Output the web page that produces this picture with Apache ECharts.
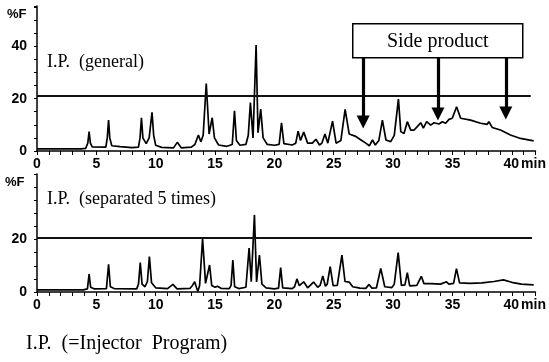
<!DOCTYPE html>
<html>
<head>
<meta charset="utf-8">
<script src="https://cdn.jsdelivr.net/npm/echarts@6/dist/echarts.min.js"></script>
<style>
html,body{margin:0;padding:0;background:#fff}
#main{width:549px;height:362px}
</style>
</head>
<body>
<div id="main"></div>
<script>
// 读图得到的数据 [min, %F]
var generalTrace = [
    [0, 0.8], [3.7, 0.8], [4.1, 1.0], [4.28, 3], [4.39, 7.4], [4.5, 3], [4.65, 1.6],
    [5.8, 1.5], [5.92, 5], [6.03, 11.8], [6.13, 5], [6.3, 2.0], [7.0, 1.7], [8.0, 1.3],
    [8.55, 1.5], [8.68, 5], [8.8, 12.7], [8.92, 5], [9.2, 2.8], [9.45, 5], [9.69, 14.8],
    [9.83, 6], [10.0, 2.2], [10.5, 1.4], [11.5, 1.2], [11.82, 3.3], [12.15, 1.2], [13.0, 1.5],
    [13.3, 2.5], [13.6, 6.1], [13.8, 3.5], [14.0, 6], [14.26, 25.8], [14.5, 6.5], [14.76, 12.7],
    [14.95, 5], [15.3, 2.3], [16.0, 1.8], [16.45, 2.5], [16.64, 15.4], [16.8, 4], [17.1, 2.2],
    [17.6, 2.5], [17.8, 6], [17.98, 18.5], [18.2, 5], [18.46, 40.5], [18.62, 7], [18.85, 16],
    [19.05, 5], [19.4, 2.5], [20.0, 2.2], [20.4, 2.5], [20.6, 10.8], [20.8, 2.8], [21.5, 2.3],
    [21.8, 3], [22.0, 7.6], [22.2, 4], [22.47, 7.2], [22.8, 3], [23.2, 3], [23.5, 4.5],
    [23.8, 2.3], [24.0, 3], [24.26, 6.5], [24.5, 3], [24.9, 11.4], [25.2, 3], [25.6, 4],
    [25.96, 15.9], [26.3, 6.5], [26.8, 5.7], [27.3, 4.2], [27.7, 3.0], [28.0, 2.0], [28.27, 4.2],
    [28.5, 2.3], [28.8, 4], [29.1, 11.8], [29.4, 4.2], [29.8, 3.6], [30.1, 6], [30.45, 19.8],
    [30.65, 7.4], [30.92, 6.7], [31.2, 11.2], [31.49, 8.0], [31.76, 8.0], [32.04, 9.3],
    [32.33, 10.8], [32.55, 8.7], [32.83, 11.2], [33.17, 9.9], [33.45, 10.8], [33.87, 10.3],
    [34.15, 11.2], [34.43, 10.6], [34.71, 12.1], [34.99, 12.5], [35.35, 16.9], [35.69, 12.5],
    [36.53, 11.8], [37.37, 10.6], [37.93, 10.2], [38.07, 11.2], [38.35, 9.0], [39.05, 8.0],
    [39.89, 6.1], [40.73, 4.8], [41.85, 3.9]
];
var separatedTrace = [
    [0, 0.8], [3.9, 0.8], [4.25, 1.2], [4.39, 6.8], [4.52, 1.8], [4.8, 1.2], [5.85, 1.3],
    [6.03, 10.6], [6.18, 2], [6.5, 1.3], [8.4, 1.2], [8.55, 3], [8.7, 11.2], [8.85, 3], [9.1, 2],
    [9.3, 4], [9.47, 13.5], [9.65, 3.5], [10.0, 1.6], [11.0, 1.3], [11.45, 2.9], [11.8, 1.2],
    [12.9, 1.4], [13.1, 2.5], [13.28, 3.9], [13.45, 1.5], [13.55, 0.2], [13.7, 2.5], [13.95, 20.3],
    [14.2, 3.3], [14.35, 4], [14.54, 10.3], [14.72, 2.5], [15.0, 1.8], [15.2, 2.2], [15.5, 1.4],
    [16.2, 1.3], [16.35, 2.5], [16.5, 12.2], [16.65, 2], [17.0, 1.3], [17.6, 1.8], [17.87, 16.8],
    [18.05, 3.9], [18.32, 29.4], [18.5, 3.8], [18.74, 14.1], [18.95, 3], [19.3, 1.6], [20.0, 1.2],
    [20.35, 1.5], [20.53, 9.3], [20.7, 1.6], [21.5, 1.3], [21.7, 2], [21.9, 5.0], [22.1, 2.4],
    [22.47, 3.9], [22.8, 1.6], [23.3, 3.8], [23.65, 1.8], [23.85, 2.5], [24.08, 6.1], [24.3, 2.2],
    [24.45, 3], [24.7, 9.7], [24.95, 2.4], [25.3, 2.5], [25.69, 14.1], [25.95, 4], [26.3, 3.8],
    [26.6, 2], [27.2, 1.5], [27.7, 1.4], [27.98, 2.9], [28.2, 1.5], [28.6, 1.6], [28.96, 9.0],
    [29.3, 2], [29.9, 1.7], [30.1, 3], [30.43, 15.0], [30.7, 2.5], [31.0, 2.7], [31.2, 7.4],
    [31.4, 2.3], [32.0, 2.5], [32.38, 6.0], [32.6, 3.2], [33.2, 3.2], [34.0, 3], [34.5, 3.9],
    [34.7, 3], [35.1, 3.3], [35.34, 8.9], [35.6, 3.5], [36.5, 3.3], [37.5, 3.5], [38.5, 4.0],
    [39.3, 4.6], [40.0, 3.7], [40.8, 3.0], [41.85, 2.7]
];
// 阈值线
var thresholdGeneral = 21.1;
var thresholdSeparated = 20.6;
var thresholdEnd = 41.6;
// 箭头 [min, 起点%F, 终点%F]
var arrowList = [[27.48, 35.9, 11.1], [33.78, 35.9, 14.1], [39.5, 35.9, 14.5]];
// 刻度标签
var xLabels = [0, 5, 10, 15, 20, 25, 30, 35, 40];
var yLabelsTop = [0, 20, 40];
var yLabelsBottom = [0, 20];

var chart = echarts.init(document.getElementById('main'));
var sans = 'Liberation Sans';

function makeX(idx) {
    return {
        gridIndex: idx, type: 'value', min: 0, max: 42, interval: 1,
        axisLine: {show: true, onZero: false, lineStyle: {color: '#000', width: 1.5}},
        axisTick: {show: true, length: 4, lineStyle: {color: '#000', width: 1}},
        splitLine: {show: false},
        axisLabel: {
            margin: 6, color: '#000', fontSize: 14, fontWeight: 'bold', fontFamily: sans,
            formatter: function (v) {
                if (xLabels.indexOf(v) < 0) return '';
                if (v === 40) return '{p|}{n|40}{u|min}';
                return String(v);
            },
            rich: {
                p: {width: 27},
                n: {fontSize: 14, fontWeight: 'bold', fontFamily: sans, color: '#000'},
                u: {width: 27, fontSize: 14, fontWeight: 'bold', fontFamily: sans, color: '#000', padding: [0, 0, 0, 1]}
            }
        }
    };
}
function makeY(idx, max, labels) {
    return {
        gridIndex: idx, type: 'value', min: 0, max: max, interval: 5,
        axisLine: {show: true, lineStyle: {color: '#000', width: 1.5}},
        axisTick: {show: true, length: 3, lineStyle: {color: '#000', width: 1}},
        splitLine: {show: false},
        axisLabel: {
            margin: 10, color: '#000', fontSize: 14, fontWeight: 'bold', fontFamily: sans,
            formatter: function (v) { return labels.indexOf(v) >= 0 ? String(v) : ''; }
        }
    };
}

var arrowData = [];
for (var i = 0; i < arrowList.length; i++) {
    arrowData.push([
        {coord: [arrowList[i][0], arrowList[i][1]], symbol: 'none', lineStyle: {width: 3.2, color: '#000'}},
        {coord: [arrowList[i][0], arrowList[i][2]], symbol: 'triangle', symbolSize: 13}
    ]);
}

var option = {
    animation: false,
    backgroundColor: '#fff',
    grid: [
        {left: 37, right: 12, top: 6, bottom: 211},
        {left: 37, right: 12, top: 174, bottom: 70}
    ],
    xAxis: [makeX(0), makeX(1)],
    yAxis: [makeY(0, 55.4, yLabelsTop), makeY(1, 45, yLabelsBottom)],
    graphic: [
        {type: 'text', left: 7, top: 8, style: {text: '%F', font: 'bold 13px "Liberation Sans"', fill: '#000'}},
        {type: 'text', left: 5, top: 176, style: {text: '%F', font: 'bold 13px "Liberation Sans"', fill: '#000'}},
        {type: 'text', left: 47, top: 53, style: {text: 'I.P.  (general)', font: '18px "Liberation Serif"', fill: '#000'}},
        {type: 'text', left: 47, top: 190, style: {text: 'I.P.  (separated 5 times)', font: '18px "Liberation Serif"', fill: '#000'}},
        {type: 'text', left: 26, top: 334, style: {text: 'I.P.  (=Injector  Program)', font: '20px "Liberation Serif"', fill: '#000'}},
        {
            type: 'group', left: 352, top: 23, z: 100,
            children: [
                {type: 'rect', shape: {x: 0, y: 0, width: 170, height: 34}, style: {fill: '#fff', stroke: '#000', lineWidth: 1.5}},
                {type: 'text', x: 85, y: 18, style: {text: 'Side product', font: '20px "Liberation Serif"', fill: '#000', align: 'center', verticalAlign: 'middle'}}
            ]
        }
    ],
    series: [
        {
            type: 'line', xAxisIndex: 0, yAxisIndex: 0, data: generalTrace,
            symbol: 'none', lineStyle: {color: '#000', width: 1.7},
            markLine: {
                silent: true, label: {show: false}, symbol: 'none',
                lineStyle: {color: '#111', width: 2, type: 'solid'},
                data: [
                    [{coord: [0, thresholdGeneral]}, {coord: [thresholdEnd, thresholdGeneral]}]
                ].concat(arrowData)
            }
        },
        {
            type: 'line', xAxisIndex: 1, yAxisIndex: 1, data: separatedTrace,
            symbol: 'none', lineStyle: {color: '#000', width: 1.7},
            markLine: {
                silent: true, label: {show: false}, symbol: 'none',
                lineStyle: {color: '#111', width: 2, type: 'solid'},
                data: [
                    [{coord: [0, thresholdSeparated]}, {coord: [thresholdEnd + 0.1, thresholdSeparated]}]
                ]
            }
        }
    ]
};
chart.setOption(option);
</script>
</body>
</html>
